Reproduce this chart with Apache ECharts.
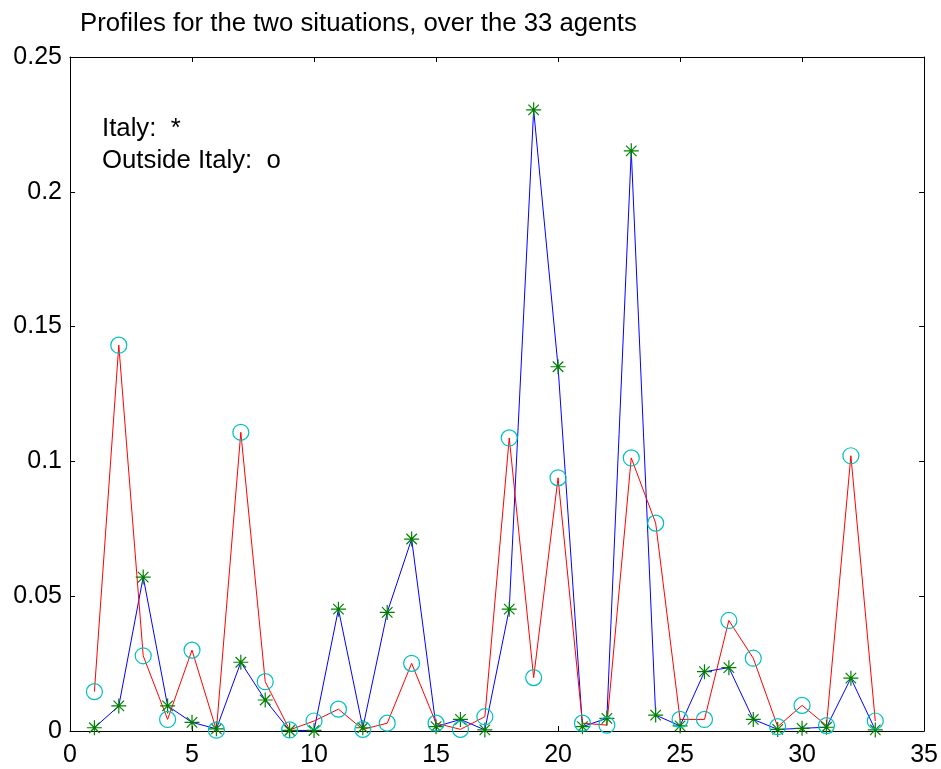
<!DOCTYPE html>
<html>
<head>
<meta charset="utf-8">
<script src="https://cdn.jsdelivr.net/npm/echarts@6/dist/echarts.min.js"></script>
<style>
html,body{margin:0;padding:0;background:#fff;}
#chart{width:941px;height:769px;}
</style>
</head>
<body>
<div id="chart"></div>
<script>
var agents = [1,2,3,4,5,6,7,8,9,10,11,12,13,14,15,16,17,18,19,20,21,22,23,24,25,26,27,28,29,30,31,32,33];
var italy = [0.0012,0.0093,0.0571,0.0093,0.0032,0.0008,0.0255,0.0115,0.0002,0.0002,0.0452,0.0012,0.0440,0.0712,0.0016,0.0043,0.0004,0.0452,0.2304,0.1351,0.0016,0.0047,0.2152,0.0059,0.0019,0.0220,0.0235,0.0043,0.0006,0.0010,0.0014,0.0196,0.0004];
var outside = [0.0146,0.1431,0.0279,0.0043,0.0300,0.0003,0.1108,0.0183,0.0004,0.0037,0.0081,0.0006,0.0029,0.0251,0.0029,0.0006,0.0053,0.1087,0.0198,0.0939,0.0029,0.0022,0.1013,0.0771,0.0043,0.0043,0.0410,0.0270,0.0016,0.0095,0.0020,0.1021,0.0037];
var xTicks = {min:0, max:35, interval:5};
var yTicks = {min:0, max:0.25, interval:0.05};
var titleText = 'Profiles for the two situations, over the 33 agents';
var note1 = 'Italy:  *';
var note2 = 'Outside Italy:  o';

function pairs(xs, ys){ return xs.map(function(x,i){ return [x, ys[i]]; }); }

var FONT = '"Liberation Sans", Arial, sans-serif';
var axisCommon = {
  axisLine:{show:true, onZero:false, lineStyle:{color:'#000', width:1}},
  axisTick:{show:true, inside:true, length:5, lineStyle:{color:'#000', width:1}},
  splitLine:{show:false}
};
function ax(base, extra){ return Object.assign({}, axisCommon, base, extra); }
function txt(t, x, y){
  return {type:'text', x:x, y:y, scaleX:1.03,
    style:{text:t, fontFamily:FONT, fontSize:25, fill:'#000', verticalAlign:'middle', align:'left'}};
}

var chart = echarts.init(document.getElementById('chart'), null, {renderer:'canvas'});
chart.setOption({
  animation:false,
  backgroundColor:'#fff',
  grid:{left:70, right:16, top:57, bottom:38, containLabel:false},
  xAxis:[
    ax({type:'value', position:'bottom', min:xTicks.min, max:xTicks.max, interval:xTicks.interval},
       {axisLabel:{show:true, margin:12, fontFamily:FONT, fontSize:25, color:'#000'}}),
    ax({type:'value', position:'top', min:xTicks.min, max:xTicks.max, interval:xTicks.interval},
       {axisLabel:{show:false}})
  ],
  yAxis:[
    ax({type:'value', position:'left', min:yTicks.min, max:yTicks.max, interval:yTicks.interval},
       {axisLabel:{show:true, margin:8, fontFamily:FONT, fontSize:25, color:'#000'}}),
    ax({type:'value', position:'right', min:yTicks.min, max:yTicks.max, interval:yTicks.interval},
       {axisLabel:{show:false}})
  ],
  graphic:[
    txt(titleText, 80, 24),
    txt(note1, 102, 129),
    txt(note2, 102, 161)
  ],
  series:[
    {name:'Italy', type:'line', xAxisIndex:0, yAxisIndex:0, data:pairs(agents, italy),
     lineStyle:{color:'#0000FF', width:1},
     symbol:'path://M0,-10L0,10M-10,0L10,0M-7,-7L7,7M-7,7L7,-7', symbolSize:15, showAllSymbol:true,
     itemStyle:{color:'rgba(0,0,0,0)', borderColor:'#008000', borderWidth:1.2}},
    {name:'Outside Italy', type:'line', xAxisIndex:0, yAxisIndex:0, data:pairs(agents, outside),
     lineStyle:{color:'#FF0000', width:1},
     symbol:'circle', symbolSize:16, showAllSymbol:true,
     itemStyle:{color:'rgba(0,0,0,0)', borderColor:'#00BFBF', borderWidth:1.2}}
  ]
});
</script>
</body>
</html>
